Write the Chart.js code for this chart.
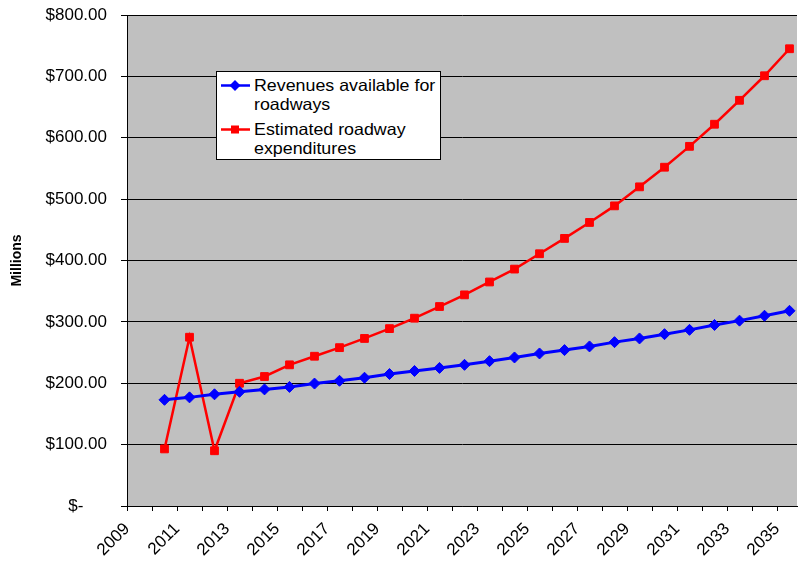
<!DOCTYPE html>
<html>
<head>
<meta charset="utf-8">
<script src="https://cdn.jsdelivr.net/npm/chart.js@4"></script>
<style>
  html, body { margin: 0; padding: 0; background: #fff; }
  #wrap { position: relative; width: 799px; height: 567px; }
  #legend {
    position: absolute; left: 216px; top: 71px; width: 225px; height: 89px;
    background: #fff; border: 1px solid #000; box-sizing: border-box;
    font-family: "Liberation Sans", Arial, sans-serif; font-size: 16.5px; color: #000;
  }
  .item { position: absolute; left: 3px; }
  .item svg { position: absolute; left: 0; }
  .item .txt { position: absolute; left: 34px; line-height: 19px; white-space: nowrap;
               transform: scaleX(1.08); transform-origin: left center; }
</style>
</head>
<body>
<div id="wrap">
  <canvas id="c" width="799" height="567"></canvas>
  <div id="legend"></div>
</div>
<script>
// ---- data ----
const years = [2010,2011,2012,2013,2014,2015,2016,2017,2018,2019,2020,2021,2022,
               2023,2024,2025,2026,2027,2028,2029,2030,2031,2032,2033,2034,2035];
const revenues = [173,177,182,186,190,194,199.5,204,209,215,220,225,230,
                  236,242,248.5,254,260,267,273,280,287,295,302,310,318];
const expenditures = [93,275,90,200,211,230,244,258,273,289,306,325,344,
                      365,386,411,436,462,489,520,552,586,622,661,701,745];
const seriesNames = [["Revenues available for", "roadways"], ["Estimated roadway", "expenditures"]];
const yTicks = [0,100,200,300,400,500,600,700,800];
const yTitle = "Millions";
// points sit at fiscal mid-year
const midYear = 0.5;

const FONT = '"Liberation Sans", Arial, sans-serif';

const plotBg = {
  id: 'plotBg',
  beforeDraw(chart) {
    const a = chart.chartArea, ctx = chart.ctx;
    ctx.save();
    ctx.fillStyle = '#C0C0C0';
    ctx.fillRect(a.left, a.top, a.right - a.left, a.bottom - a.top);
    ctx.restore();
  }
};

const toPts = arr => years.map((yr, i) => ({ x: yr + midYear, y: arr[i] }));

new Chart(document.getElementById('c'), {
  type: 'line',
  data: {
    datasets: [
      {
        label: seriesNames[0].join(' '),
        data: toPts(revenues),
        borderColor: '#0000FF', backgroundColor: '#0000FF',
        borderWidth: 3, pointStyle: 'rectRot', pointRadius: 5.5,
        pointBorderWidth: 1, tension: 0
      },
      {
        label: seriesNames[1].join(' '),
        data: toPts(expenditures),
        borderColor: '#FF0000', backgroundColor: '#FF0000',
        borderWidth: 2.5, pointStyle: 'rect', pointRadius: 5.5,
        pointBorderWidth: 1, tension: 0
      }
    ]
  },
  options: {
    responsive: false,
    animation: false,
    devicePixelRatio: 1,
    layout: { autoPadding: false, padding: { left: 0, right: 2, top: 15, bottom: 0 } },
    plugins: { legend: { display: false }, tooltip: { enabled: false } },
    scales: {
      x: {
        type: 'linear',
        min: 2009, max: 2035.8,
        grid: { drawOnChartArea: false, drawTicks: true, tickLength: 5, color: '#000' },
        border: { color: '#000', width: 1 },
        ticks: {
          stepSize: 1, includeBounds: false, autoSkip: false,
          minRotation: 45, maxRotation: 45,
          color: '#000', font: { family: FONT, size: 17 },
          padding: 8,
          callback: v => (Math.round(v) % 2 === 1) ? String(Math.round(v)) : ''
        },
        afterFit: s => { s.height = 61; s.paddingLeft = 0; s.paddingRight = 0; }
      },
      y: {
        min: 0, max: 800,
        afterBuildTicks: s => { s.ticks = yTicks.map(v => ({ value: v })); },
        grid: { color: '#000', lineWidth: 1, tickLength: 6, drawTicks: true },
        border: { color: '#000', width: 1 },
        ticks: {
          color: '#000', font: { family: FONT, size: 17 }, padding: 14,
          callback: v => v === 0 ? '$-     ' : '$' + v.toFixed(2)
        },
        title: {
          display: true, text: yTitle, color: '#000',
          font: { family: FONT, size: 14, weight: 'bold' },
          padding: { top: 9, bottom: 0 }
        },
        afterFit: s => { s.width = 127; s.paddingTop = 0; s.paddingBottom = 0; }
      }
    }
  },
  plugins: [plotBg]
});

// ---- HTML legend ----
const leg = document.getElementById('legend');
const styles = [
  { color: '#0000FF', marker: '<polygon points="15,0 20.5,5.5 15,11 9.5,5.5" fill="#0000FF"/>' },
  { color: '#FF0000', marker: '<rect x="11" y="1.5" width="8" height="8" fill="#FF0000"/>' }
];
const tops = [4, 48];
seriesNames.forEach((lines, i) => {
  const d = document.createElement('div');
  d.className = 'item';
  d.style.top = tops[i] + 'px';
  d.innerHTML =
    '<svg width="32" height="11" style="top:4px">' +
    '<line x1="1" y1="5.5" x2="30" y2="5.5" stroke="' + styles[i].color + '" stroke-width="2.5"/>' +
    styles[i].marker + '</svg>' +
    '<div class="txt">' + lines.join('<br>') + '</div>';
  leg.appendChild(d);
});
</script>
</body>
</html>
